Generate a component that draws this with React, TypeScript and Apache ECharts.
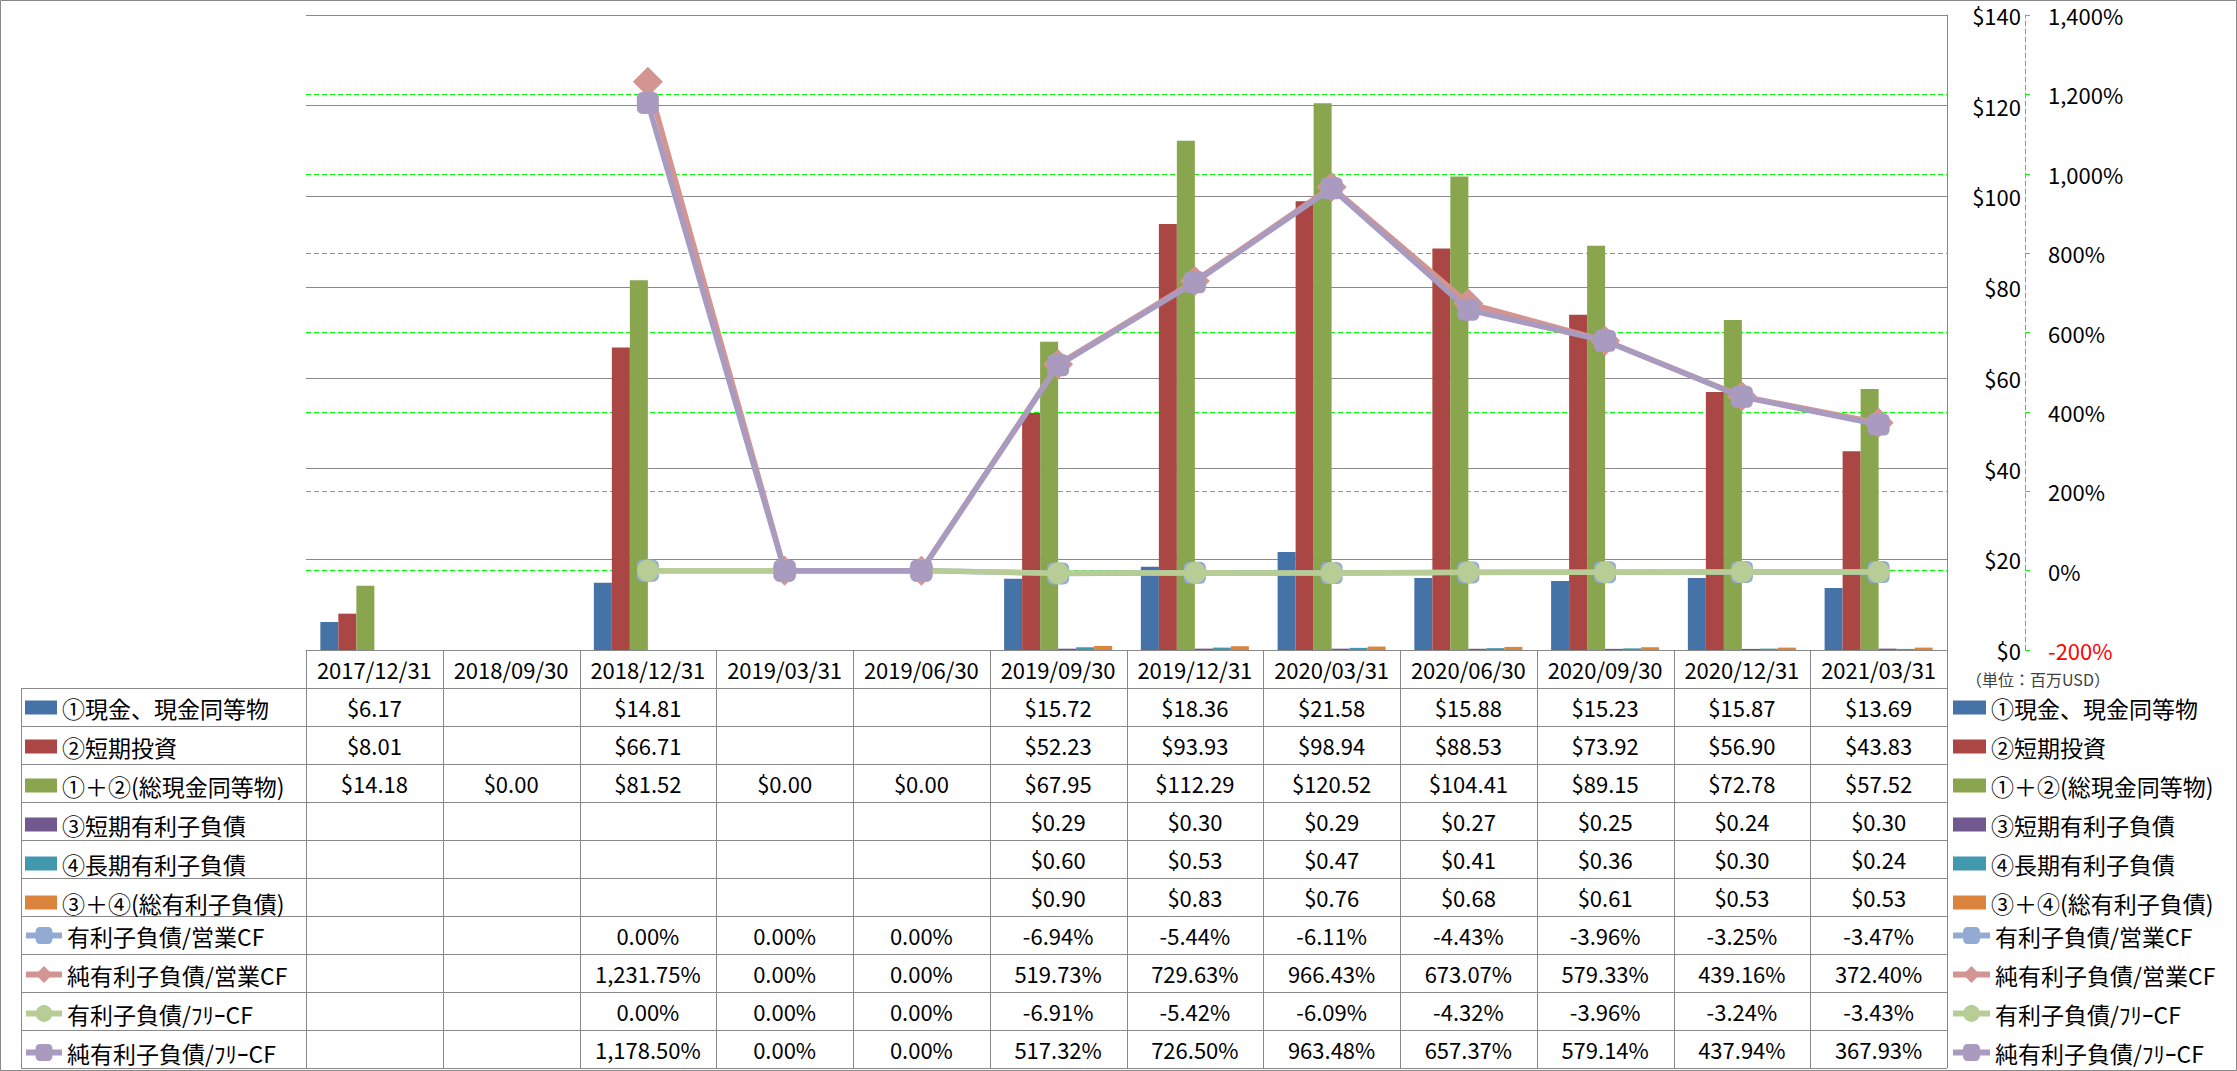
import React, { useEffect, useRef } from "react";
import * as echarts from "echarts";

const categories = [
  "2017/12/31", "2018/09/30", "2018/12/31", "2019/03/31", "2019/06/30", "2019/09/30",
  "2019/12/31", "2020/03/31", "2020/06/30", "2020/09/30", "2020/12/31", "2021/03/31",
];

const cash = [6.17, null, 14.81, null, null, 15.72, 18.36, 21.58, 15.88, 15.23, 15.87, 13.69];
const shortInv = [8.01, null, 66.71, null, null, 52.23, 93.93, 98.94, 88.53, 73.92, 56.9, 43.83];
const totalCash = [14.18, 0, 81.52, 0, 0, 67.95, 112.29, 120.52, 104.41, 89.15, 72.78, 57.52];
const shortDebt = [null, null, null, null, null, 0.29, 0.3, 0.29, 0.27, 0.25, 0.24, 0.3];
const longDebt = [null, null, null, null, null, 0.6, 0.53, 0.47, 0.41, 0.36, 0.3, 0.24];
const totalDebt = [null, null, null, null, null, 0.9, 0.83, 0.76, 0.68, 0.61, 0.53, 0.53];

const debtOpCF = [null, null, 0, 0, 0, -6.94, -5.44, -6.11, -4.43, -3.96, -3.25, -3.47];
const netDebtOpCF = [null, null, 1231.75, 0, 0, 519.73, 729.63, 966.43, 673.07, 579.33, 439.16, 372.4];
const debtFCF = [null, null, 0, 0, 0, -6.91, -5.42, -6.09, -4.32, -3.96, -3.24, -3.43];
const netDebtFCF = [null, null, 1178.5, 0, 0, 517.32, 726.5, 963.48, 657.37, 579.14, 437.94, 367.93];

const barNames = [
  "①現金、現金同等物", "②短期投資", "①＋②(総現金同等物)",
  "③短期有利子負債", "④長期有利子負債", "③＋④(総有利子負債)",
];
const lineNames = ["有利子負債/営業CF", "純有利子負債/営業CF", "有利子負債/ﾌﾘｰCF", "純有利子負債/ﾌﾘｰCF"];
const unitLabel = "（単位：百万USD）";

const FONT = "'Noto Sans CJK JP', 'Noto Sans', sans-serif";

const fmtUsd = (v: number | null) => (v == null ? "" : "$" + v.toFixed(2));
const fmtPct = (v: number | null) =>
  v == null ? "" : v.toLocaleString("en-US", { minimumFractionDigits: 2, maximumFractionDigits: 2 }) + "%";

export default function App() {
  const ref = useRef<HTMLDivElement>(null);
  useEffect(() => {
    document.body.style.margin = "0";
    const chart = echarts.init(ref.current!, null, { renderer: "svg" });

    const W = 2237, H = 1071;
    const gL = 306, gR = 1947, gT = 15, gB = 650;
    const colW = (gR - gL) / categories.length;
    const rowH = 38;
    const tableL = 21;
    const lineColor = "#898989";
    const dash = [5, 3];

    const barColors = ["#4572A7", "#AA4643", "#89A54E", "#71588F", "#4198AF", "#DB843D"];
    const lineColors = ["#93ABD3", "#D39592", "#B7CD95", "#A89BBF"];
    const lineSymbols = ["roundRect", "diamond", "circle", "roundRect"];
    const lineSizes = [22, 30, 22, 22];

    const barData = [cash, shortInv, totalCash, shortDebt, longDebt, totalDebt];
    const lineData = [debtOpCF, netDebtOpCF, debtFCF, netDebtFCF];

    const graphics: any[] = [];
    graphics.push({
      type: "rect", shape: { x: 0.5, y: 0.5, width: W - 1, height: H - 1 },
      style: { fill: "none", stroke: lineColor, lineWidth: 1 }, silent: true,
    });
    graphics.push({
      type: "line", z: 50, shape: { x1: gL, y1: gT + 0.5, x2: gR, y2: gT + 0.5 },
      style: { stroke: lineColor, lineWidth: 1 }, silent: true,
    });
    const totalRows = barNames.length + lineNames.length;
    const tableBottom = gB + rowH * (totalRows + 1);
    for (let k = 1; k <= totalRows + 1; k++) {
      const y = Math.round(gB + rowH * k) + 0.5;
      graphics.push({
        type: "line", shape: { x1: tableL, y1: y, x2: gR, y2: y },
        style: { stroke: lineColor, lineWidth: 1 }, silent: true,
      });
    }
    graphics.push({
      type: "line", shape: { x1: tableL + 0.5, y1: gB + rowH, x2: tableL + 0.5, y2: tableBottom },
      style: { stroke: lineColor, lineWidth: 1 }, silent: true,
    });
    for (let i = 0; i <= categories.length; i++) {
      const x = Math.round(gL + colW * i) + 0.5;
      graphics.push({
        type: "line", shape: { x1: x, y1: gB, x2: x, y2: tableBottom },
        style: { stroke: lineColor, lineWidth: 1 }, silent: true,
      });
    }
    const rows: string[][] = [
      ...barData.map((arr) => arr.map(fmtUsd)),
      ...lineData.map((arr) => arr.map(fmtPct)),
    ];
    rows.forEach((r, ri) => {
      r.forEach((t, ci) => {
        if (!t) return;
        graphics.push({
          type: "text", silent: true,
          x: gL + colW * (ci + 0.5), y: gB + rowH * (ri + 1) + rowH / 2,
          style: { text: t, fill: "#000", font: `22px ${FONT}`, align: "center", verticalAlign: "middle" },
        });
      });
    });
    graphics.push({
      type: "text", silent: true, x: 1966, y: 679,
      style: { text: unitLabel, fill: "#404040", font: `16px ${FONT}`, align: "left", verticalAlign: "middle" },
    });

    const textStyle = { fontSize: 23, lineHeight: 22, color: "#000", fontFamily: FONT };
    const barLegendBase = {
      orient: "vertical",
      top: gB + rowH + (rowH - 22) / 2,
      itemHeight: 14,
      itemGap: rowH - 22,
      selectedMode: false,
      data: barNames.map((n) => ({ name: n, icon: "rect" })),
      textStyle,
      padding: 0,
    };
    const lineLegendBase = {
      orient: "vertical",
      top: gB + rowH * 7 + (rowH - 22) / 2,
      itemHeight: 21,
      itemGap: rowH - 22,
      selectedMode: false,
      data: lineNames.map((n) => ({ name: n })),
      lineStyle: { width: 6 },
      textStyle,
      padding: 0,
    };

    const option: any = {
      animation: false,
      textStyle: { fontFamily: FONT },
      grid: { left: gL, top: gT, right: W - gR, bottom: H - gB, containLabel: false },
      legend: [
        { ...barLegendBase, left: 25, itemWidth: 32 },
        { ...barLegendBase, left: 1953, itemWidth: 33 },
        { ...lineLegendBase, left: 23, itemWidth: 36 },
        { ...lineLegendBase, left: 1950, itemWidth: 37 },
      ],
      xAxis: {
        type: "category",
        data: categories,
        boundaryGap: true,
        axisLine: { show: true, lineStyle: { color: lineColor, width: 1 } },
        axisTick: { show: false },
        axisLabel: { interval: 0, margin: 8, fontSize: 22, color: "#000", fontFamily: FONT },
        splitLine: { show: false },
      },
      yAxis: [
        {
          type: "value", position: "right", min: 0, max: 140, interval: 20,
          axisLine: { show: true, lineStyle: { color: lineColor, width: 1 } },
          axisTick: { show: false },
          axisLabel: {
            formatter: (v: number) => "$" + v, fontSize: 22, color: "#000", fontFamily: FONT,
            align: "right", margin: 74,
          },
          splitLine: { show: true, lineStyle: { color: lineColor, width: 1 } },
        },
        {
          type: "value", position: "right", offset: 78, min: -200, max: 1400, interval: 200,
          axisLine: { show: true, lineStyle: { color: "#00FF00", width: 1, type: dash } },
          axisTick: { show: true, inside: false, length: 8, lineStyle: { color: "#00FF00", width: 1, type: dash } },
          axisLabel: {
            formatter: (v: number) => v.toLocaleString("en-US") + "%",
            fontSize: 22, fontFamily: FONT, margin: 23, align: "left",
            color: (v: any) => (Number(v) < 0 ? "#FF0000" : "#000"),
          },
          splitLine: { show: true, lineStyle: { color: "#00FF00", width: 1, type: dash } },
        },
      ],
      graphic: graphics,
      series: [
        ...barNames.map((n, i) => ({
          name: n, type: "bar", yAxisIndex: 0, data: barData[i],
          barGap: "0%", barCategoryGap: "21%",
          itemStyle: { color: barColors[i] },
          emphasis: { disabled: true },
          z: 3,
        })),
        ...lineNames.map((n, i) => ({
          name: n, type: "line", yAxisIndex: 1, data: lineData[i],
          symbol: lineSymbols[i], symbolSize: lineSizes[i], showAllSymbol: true,
          lineStyle: { color: lineColors[i], width: 5.5 },
          itemStyle: { color: lineColors[i] },
          emphasis: { disabled: true },
          z: 4 + i,
        })),
      ],
    };
    chart.setOption(option);
    return () => chart.dispose();
  }, []);
  return (
    <div
      ref={ref}
      style={{ position: "absolute", left: 0, top: 0, width: 2237, height: 1071, background: "#fff" }}
    />
  );
}
